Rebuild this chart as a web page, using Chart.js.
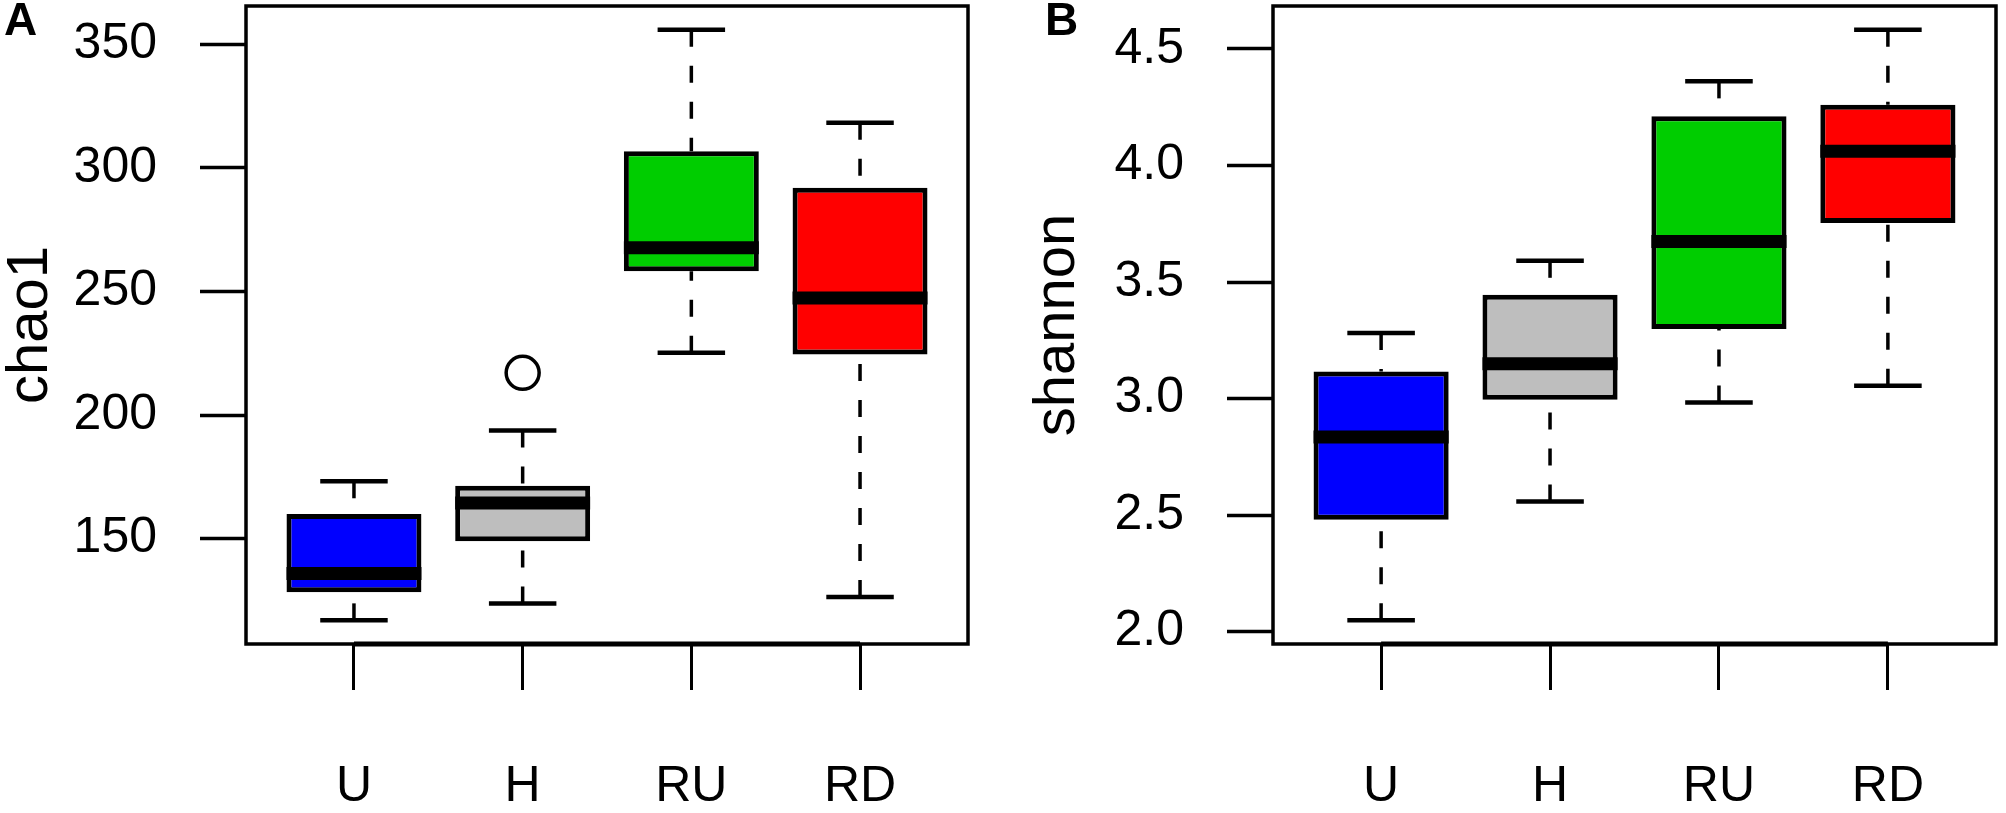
<!DOCTYPE html>
<html>
<head>
<meta charset="utf-8">
<script src="https://cdn.jsdelivr.net/npm/chart.js@4.4.1/dist/chart.umd.min.js"></script>
<style>
html, body { margin: 0; padding: 0; background: #fff; }
#wrap { position: relative; width: 2006px; height: 813px; }
canvas { position: absolute; top: 0; }
#chao1_chart { left: 0; }
#shannon_chart { left: 1003px; }
</style>
</head>
<body>
<div id="wrap">
  <canvas id="chao1_chart" width="1003" height="813"></canvas>
  <canvas id="shannon_chart" width="1003" height="813"></canvas>
</div>
<script>
const FONT = '"Liberation Sans", Arial, Helvetica, sans-serif';

const groups = ['U', 'H', 'RU', 'RD'];
const boxColors = ['#0000FF', '#BEBEBE', '#00CD00', '#FF0000'];

// panel A - chao1
const chao1Min = [116.9, 123.7, 225.2, 126.4];
const chao1Q1 = [128.3, 148.9, 258.2, 224.5];
const chao1Median = [135.9, 164.4, 267.7, 247.4];
const chao1Q3 = [160.0, 171.4, 306.8, 292.0];
const chao1Max = [173.2, 193.7, 356.0, 318.3];
const chao1OutlierGroups = ['H'];
const chao1OutlierValues = [217.1];

// panel B - shannon
const shannonMin = [2.048, 2.558, 2.983, 3.055];
const shannonQ1 = [2.480, 2.995, 3.298, 3.753];
const shannonMedian = [2.835, 3.149, 3.674, 4.061];
const shannonQ3 = [3.116, 3.445, 4.211, 4.261];
const shannonMax = [3.281, 3.591, 4.361, 4.583];
const shannonOutlierGroups = [];
const shannonOutlierValues = [];

// whiskers, staples, medians and the frame, drawn through the chart scales
const boxplotPlugin = {
    id: 'boxplot',
    afterDatasetsDraw(chart, args, opts) {
        const ctx = chart.ctx;
        const xs = chart.scales.x;
        const ys = chart.scales.y;
        const area = chart.chartArea;
        const seg = (x1, y1, x2, y2) => {
            ctx.beginPath();
            ctx.moveTo(x1, y1);
            ctx.lineTo(x2, y2);
            ctx.stroke();
        };
        ctx.save();
        ctx.strokeStyle = '#000';
        ctx.lineCap = 'butt';
        for (let i = 0; i < groups.length; i++) {
            const cx = xs.getPixelForValue(i + 1);
            const capL = xs.getPixelForValue(i + 0.8);
            const capR = xs.getPixelForValue(i + 1.2);
            const boxL = xs.getPixelForValue(i + 0.6);
            const boxR = xs.getPixelForValue(i + 1.4);
            const yMin = ys.getPixelForValue(opts.min[i]);
            const yMax = ys.getPixelForValue(opts.max[i]);
            // dashed whiskers, from the staple towards the box
            ctx.lineWidth = 3.5;
            ctx.setLineDash([17, 19]);
            seg(cx, yMax, cx, ys.getPixelForValue(opts.q3[i]));
            seg(cx, yMin, cx, ys.getPixelForValue(opts.q1[i]));
            ctx.setLineDash([]);
            // staples
            ctx.lineWidth = 4.5;
            seg(capL, yMax, capR, yMax);
            seg(capL, yMin, capR, yMin);
            // median
            ctx.lineWidth = 13;
            const yMed = ys.getPixelForValue(opts.median[i]);
            seg(boxL, yMed, boxR, yMed);
        }
        // plot frame
        ctx.lineWidth = 3.5;
        ctx.strokeRect(area.left, area.top, area.right - area.left, area.bottom - area.top);
        // axis line between first and last tick
        ctx.lineWidth = 5;
        seg(xs.getPixelForValue(1), area.bottom, xs.getPixelForValue(groups.length), area.bottom);
        ctx.restore();
    },
    afterDraw(chart, args, opts) {
        const ctx = chart.ctx;
        ctx.save();
        ctx.fillStyle = '#000';
        ctx.font = 'bold 46px ' + FONT;
        ctx.textBaseline = 'alphabetic';
        ctx.textAlign = 'left';
        ctx.fillText(opts.panel, opts.panelX, 35);
        ctx.restore();
    }
};

function paintBoxChart(canvasId, panel, panelX, yTitle, min, q1, median, q3, max,
                       outGroups, outValues, stepSize, decimals, leftPad, rightPad) {
    const ctx = document.getElementById(canvasId).getContext('2d');
    const all = min.concat(max, outValues);
    const lo = Math.min(...all);
    const hi = Math.max(...all);
    const ext = (hi - lo) * 0.04;
    return new Chart(ctx, {
        type: 'bar',
        data: {
            datasets: [{
                data: groups.map((g, i) => ({ x: i + 1, y: [q1[i], q3[i]] })),
                backgroundColor: boxColors,
                borderColor: '#000',
                borderWidth: 5,
                borderSkipped: false,
                categoryPercentage: 0.8,
                barPercentage: 1.0
            }, {
                type: 'scatter',
                data: outGroups.map((g, k) => ({ x: groups.indexOf(g) + 1, y: outValues[k] })),
                pointStyle: 'circle',
                pointRadius: 16.5,
                pointBorderWidth: 3.5,
                pointBorderColor: '#000',
                pointBackgroundColor: 'rgba(0,0,0,0)'
            }]
        },
        options: {
            responsive: false,
            animation: false,
            devicePixelRatio: 1,
            layout: {
                autoPadding: false,
                padding: { left: leftPad, right: rightPad, top: 6, bottom: 0 }
            },
            plugins: {
                legend: { display: false },
                tooltip: { enabled: false },
                boxplot: { min: min, q1: q1, median: median, q3: q3, max: max, panel: panel, panelX: panelX }
            },
            scales: {
                x: {
                    type: 'linear',
                    min: 0.36,
                    max: 4.64,
                    offset: false,
                    border: { display: false },
                    grid: { offset: false, drawOnChartArea: false, drawTicks: true, tickLength: 46, tickWidth: 3, tickColor: '#000' },
                    ticks: {
                        stepSize: 1,
                        includeBounds: false,
                        autoSkip: false,
                        maxRotation: 0,
                        padding: 67,
                        color: '#000',
                        font: { family: FONT, size: 50 },
                        callback: (v) => groups[v - 1]
                    },
                    afterFit: (s) => { s.height = 169; s.paddingLeft = 0; s.paddingRight = 0; }
                },
                y: {
                    min: lo - ext,
                    max: hi + ext,
                    border: { display: false },
                    grid: { drawOnChartArea: false, drawTicks: true, tickLength: 46, tickWidth: 3.5, tickColor: '#000' },
                    ticks: {
                        stepSize: stepSize,
                        includeBounds: false,
                        padding: 43,
                        color: '#000',
                        font: { family: FONT, size: 50 },
                        callback: (v) => v.toFixed(decimals)
                    },
                    title: {
                        display: true,
                        text: yTitle,
                        color: '#000',
                        font: { family: FONT, size: 58 },
                        padding: { top: -4, bottom: 0 }
                    },
                    afterFit: (s) => { s.width = 246; s.paddingTop = 0; s.paddingBottom = 0; }
                }
            }
        },
        plugins: [boxplotPlugin]
    });
}

paintBoxChart('chao1_chart', 'A', 4, 'chao1', chao1Min, chao1Q1, chao1Median, chao1Q3, chao1Max,
    chao1OutlierGroups, chao1OutlierValues, 50, 0, 0, 35);
paintBoxChart('shannon_chart', 'B', 42, 'shannon', shannonMin, shannonQ1, shannonMedian, shannonQ3, shannonMax,
    shannonOutlierGroups, shannonOutlierValues, 0.5, 1, 24, 10);
</script>
</body>
</html>
